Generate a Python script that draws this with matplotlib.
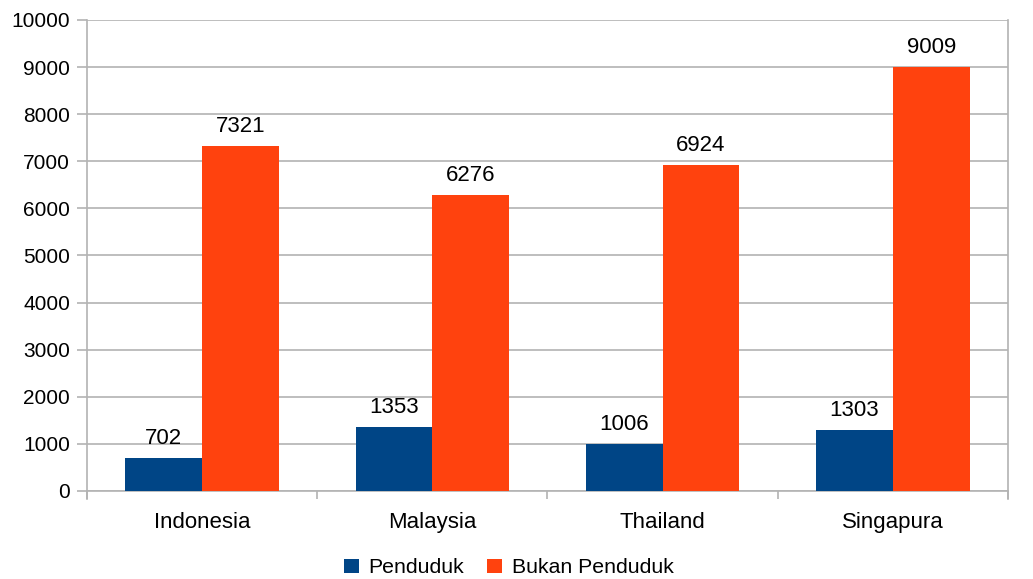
import numpy as np
import matplotlib
matplotlib.use("Agg")
import matplotlib.pyplot as plt

plt.rcParams['font.family'] = ['Liberation Sans', 'DejaVu Sans']

negara = ['Indonesia', 'Malaysia', 'Thailand', 'Singapura']
penduduk = [702, 1353, 1006, 1303]
bukan_penduduk = [7321, 6276, 6924, 9009]
yticks = list(range(0, 10001, 1000))

fig = plt.figure(figsize=(10.33, 5.79), dpi=100)
ax = fig.add_axes([0.0842, 0.152, 0.9758 - 0.0842, 0.9655 - 0.152])

x = np.arange(len(negara))
w = 1 / 3
b1 = ax.bar(x - w / 2, penduduk, w, color='#004586', label='Penduduk', zorder=3)
b2 = ax.bar(x + w / 2, bukan_penduduk, w, color='#ff420e', label='Bukan Penduduk', zorder=3)

for bars in (b1, b2):
    for r in bars:
        ax.text(r.get_x() + r.get_width() / 2, r.get_height() + 190, str(int(r.get_height())),
                ha='center', va='bottom', fontsize=16, color='#000000')

ax.set_xlim(-0.5, len(negara) - 0.5)
ax.set_ylim(0, 10000)
ax.set_yticks(yticks)
ax.set_yticklabels([str(v) for v in yticks])
ax.yaxis.grid(True, color='#b3b3b3', linewidth=1.2, zorder=0)

ax.set_xticks(x)
ax.set_xticklabels(negara)
ax.set_xticks(np.arange(len(negara) + 1) - 0.5, minor=True)
ax.tick_params(axis='x', which='major', length=0, labelsize=16, pad=15)
ax.tick_params(axis='x', which='minor', length=5.8, color='#b3b3b3', width=1.2)
ax.tick_params(axis='y', length=7.2, color='#b3b3b3', width=1.2, labelsize=15, pad=5)

ax.spines['top'].set_visible(False)
for s in ['left', 'right', 'bottom']:
    ax.spines[s].set_color('#b3b3b3')
    ax.spines[s].set_linewidth(1.2)
ax.spines['left'].set_bounds(-170, 10000)
ax.spines['right'].set_bounds(-170, 10000)
ax.spines['left'].set_zorder(4)

fig.legend(handles=[b1, b2], loc='center', bbox_to_anchor=(0.4925, 0.019), ncol=2, frameon=False,
           fontsize=15.3, handlelength=0.7, handleheight=0.7, handletextpad=0.45, columnspacing=1.1)

fig.savefig('out.png', dpi=100)
